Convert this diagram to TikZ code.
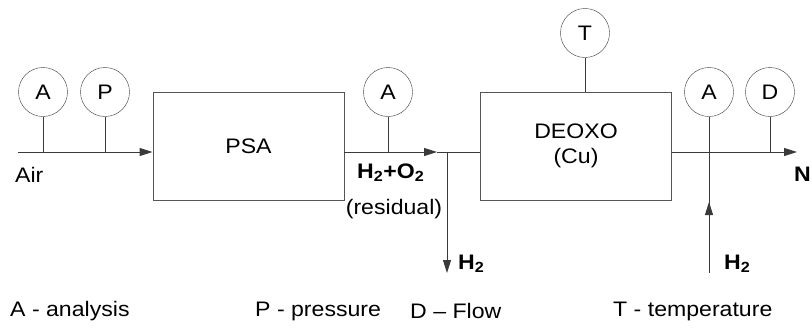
\documentclass[tikz,border=0pt]{standalone}
\usepackage{fontspec}
\setmainfont{Liberation Sans}[FakeStretch=1.1]
\usetikzlibrary{arrows.meta, positioning, calc}
\definecolor{linegray}{HTML}{3A3A3A}
\definecolor{boxgray}{HTML}{555555}
\tikzset{
  gauge/.style={draw=linegray, circle, minimum size=49pt, inner sep=0pt,
                font=\fontsize{21}{25}\selectfont},
  unit/.style={draw=boxgray, line width=0.9pt, minimum width=191pt, minimum height=108pt,
               align=center, font=\fontsize{21}{25}\selectfont},
  flow/.style={-{Triangle[length=13pt, width=8pt]}, line width=0.9pt, draw=linegray},
  pipe/.style={line width=0.9pt, draw=linegray},
  txt/.style={inner sep=0pt, font=\fontsize{21}{25}\selectfont},
  btxt/.style={inner sep=0pt, font=\fontsize{21}{25}\selectfont\bfseries},
}

\begin{document}
\begin{tikzpicture}[x=1pt, y=-1pt]
  \useasboundingbox (0,0) rectangle (812,330);
  \node[unit] (psa) at (248.5,146) {PSA};
  \node[unit] (deoxo) at (576,146) {DEOXO\\(Cu)};
  \coordinate (air) at (18,152);
  \coordinate (joint) at (447,152);
  \coordinate (h2out) at (447,273);
  \coordinate (h2in) at (709,273);
  \coordinate (out) at (797,152);
  \foreach \name/\lbl/\x/\y in {a1/A/43/92, p1/P/105/92, a2/A/388/92, t1/T/585/33, a3/A/709/92, d1/D/770/92}{
    \node[gauge] (\name) at (\x,\y) {\lbl};
  }
  \draw[flow] (air) -- (air -| psa.west);
  \draw[flow] (psa.east |- joint) -- ([xshift=-10pt]joint);
  \draw[pipe] ([xshift=-10pt]joint) -- (deoxo.west |- joint);
  \draw[flow] (joint) -- (h2out);
  \draw[flow] (deoxo.east |- joint) -- (out);
  \foreach \name in {a1, p1, a2, d1}{
    \draw[pipe] (\name) -- (\name |- joint);
  }
  \draw[pipe] (t1) -- (t1 |- deoxo.north);
  \draw[pipe] (a3) -- (h2in);
  \draw[flow] (h2in) -- ++(0,-71);
  \node[txt, anchor=west] (airlbl) at (15,175) {Air};
  \node[btxt, anchor=west] (mix) at (357,173) {H\textsubscript{2}+O\textsubscript{2}};
  \node[txt] (resid) at (394,209) {(residual)};
  \node[btxt, anchor=west] (h2a) at (458,264) {H\textsubscript{2}};
  \node[btxt, anchor=west] (h2b) at (724,264) {H\textsubscript{2}};
  \node[btxt, anchor=east] (n2) at (811,174) {N};
  \node[txt, anchor=west] (legA) at (10,311) {A - analysis};
  \node[txt, anchor=west] (legP) at (255,311) {P - pressure};
  \node[txt, anchor=west] (legD) at (410,311) {D -- Flow};
  \node[txt, anchor=west] (legT) at (613,311) {T - temperature};
\end{tikzpicture}
\end{document}
